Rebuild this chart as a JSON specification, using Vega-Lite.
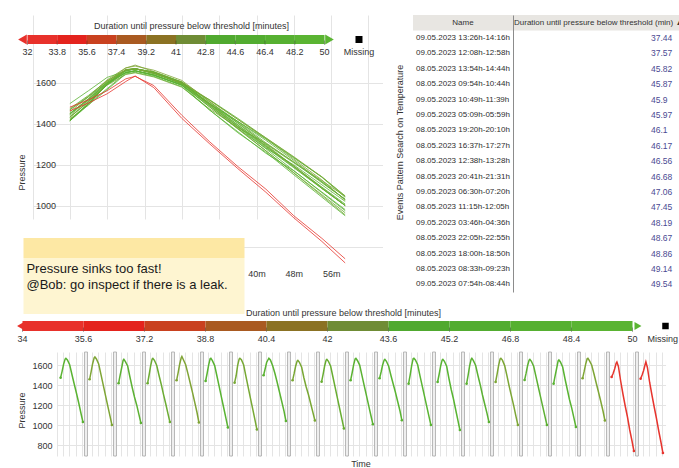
{
  "$schema": "https://vega.github.io/schema/vega-lite/v6.json",
  "background": "white",
  "padding": {"left": 17, "top": 15, "right": 0, "bottom": 0},
  "config": {
    "font": "Liberation Sans",
    "view": {"stroke": null},
    "axis": {"labelFont": "Liberation Sans", "titleFont": "Liberation Sans", "labelColor": "#333333", "titleColor": "#333333", "titleFontWeight": "normal", "gridColor": "#e4e4e4", "domain": false, "ticks": false, "labelFontSize": 9, "titleFontSize": 9}
  },
  "datasets": {
    "cycles": [
      {"c":1,"name":"08.05.2023 08:33h-09:23h","dur":49.14},
      {"c":2,"name":"08.05.2023 09:54h-10:44h","dur":45.87},
      {"c":3,"name":"08.05.2023 11:15h-12:05h","dur":47.45},
      {"c":4,"name":"08.05.2023 12:38h-13:28h","dur":46.56},
      {"c":5,"name":"08.05.2023 13:54h-14:44h","dur":45.82},
      {"c":6,"name":"08.05.2023 15:15h-16:05h","dur":49.71},
      {"c":7,"name":"08.05.2023 16:37h-17:27h","dur":46.17},
      {"c":8,"name":"08.05.2023 18:00h-18:50h","dur":48.86},
      {"c":9,"name":"08.05.2023 19:20h-20:10h","dur":46.1},
      {"c":10,"name":"08.05.2023 20:41h-21:31h","dur":46.68},
      {"c":11,"name":"08.05.2023 22:05h-22:55h","dur":48.67},
      {"c":12,"name":"08.05.2023 23:25h-00:15h","dur":49.82},
      {"c":13,"name":"09.05.2023 00:45h-01:35h","dur":49.9},
      {"c":14,"name":"09.05.2023 02:16h-03:06h","dur":50.13},
      {"c":15,"name":"09.05.2023 03:46h-04:36h","dur":48.19},
      {"c":16,"name":"09.05.2023 05:09h-05:59h","dur":45.97},
      {"c":17,"name":"09.05.2023 06:30h-07:20h","dur":47.06},
      {"c":18,"name":"09.05.2023 07:54h-08:44h","dur":49.54},
      {"c":19,"name":"09.05.2023 10:49h-11:39h","dur":45.9},
      {"c":20,"name":"09.05.2023 12:08h-12:58h","dur":37.57},
      {"c":21,"name":"09.05.2023 13:26h-14:16h","dur":37.44}
    ],
    "series": [
      {"c":1,"m":0,"p":1473},{"c":1,"m":4,"p":1537},{"c":1,"m":8,"p":1609},{"c":1,"m":12,"p":1659},{"c":1,"m":14,"p":1667},{"c":1,"m":18,"p":1650},{"c":1,"m":24,"p":1602},{"c":1,"m":30,"p":1505},{"c":1,"m":36,"p":1410},{"c":1,"m":42,"p":1318},{"c":1,"m":48,"p":1220},{"c":1,"m":54,"p":1115},{"c":1,"m":59,"p":1030},
      {"c":2,"m":0,"p":1457},{"c":2,"m":4,"p":1531},{"c":2,"m":8,"p":1613},{"c":2,"m":12,"p":1672},{"c":2,"m":14,"p":1680},{"c":2,"m":18,"p":1660},{"c":2,"m":24,"p":1610},{"c":2,"m":30,"p":1506},{"c":2,"m":36,"p":1401},{"c":2,"m":42,"p":1297},{"c":2,"m":48,"p":1192},{"c":2,"m":54,"p":1088},{"c":2,"m":59,"p":1000},
      {"c":3,"m":0,"p":1417},{"c":3,"m":4,"p":1496},{"c":3,"m":8,"p":1570},{"c":3,"m":12,"p":1646},{"c":3,"m":14,"p":1657},{"c":3,"m":18,"p":1634},{"c":3,"m":24,"p":1590},{"c":3,"m":30,"p":1480},{"c":3,"m":36,"p":1375},{"c":3,"m":42,"p":1280},{"c":3,"m":48,"p":1198},{"c":3,"m":54,"p":1101},{"c":3,"m":59,"p":1020},
      {"c":4,"m":0,"p":1417},{"c":4,"m":4,"p":1500},{"c":4,"m":8,"p":1592},{"c":4,"m":12,"p":1659},{"c":4,"m":14,"p":1667},{"c":4,"m":18,"p":1647},{"c":4,"m":24,"p":1597},{"c":4,"m":30,"p":1500},{"c":4,"m":36,"p":1408},{"c":4,"m":42,"p":1306},{"c":4,"m":48,"p":1212},{"c":4,"m":54,"p":1111},{"c":4,"m":59,"p":1030},
      {"c":5,"m":0,"p":1447},{"c":5,"m":4,"p":1522},{"c":5,"m":8,"p":1605},{"c":5,"m":12,"p":1670},{"c":5,"m":14,"p":1685},{"c":5,"m":18,"p":1653},{"c":5,"m":24,"p":1603},{"c":5,"m":30,"p":1514},{"c":5,"m":36,"p":1420},{"c":5,"m":42,"p":1326},{"c":5,"m":48,"p":1226},{"c":5,"m":54,"p":1125},{"c":5,"m":59,"p":1025},
      {"c":6,"m":0,"p":1440},{"c":6,"m":4,"p":1515},{"c":6,"m":8,"p":1599},{"c":6,"m":12,"p":1662},{"c":6,"m":14,"p":1667},{"c":6,"m":18,"p":1644},{"c":6,"m":24,"p":1594},{"c":6,"m":30,"p":1490},{"c":6,"m":36,"p":1383},{"c":6,"m":42,"p":1277},{"c":6,"m":48,"p":1170},{"c":6,"m":54,"p":1063},{"c":6,"m":59,"p":975},
      {"c":7,"m":0,"p":1423},{"c":7,"m":4,"p":1490},{"c":7,"m":8,"p":1594},{"c":7,"m":12,"p":1659},{"c":7,"m":14,"p":1667},{"c":7,"m":18,"p":1652},{"c":7,"m":24,"p":1600},{"c":7,"m":30,"p":1487},{"c":7,"m":36,"p":1377},{"c":7,"m":42,"p":1267},{"c":7,"m":48,"p":1158},{"c":7,"m":54,"p":1048},{"c":7,"m":59,"p":955},
      {"c":8,"m":0,"p":1497},{"c":8,"m":4,"p":1560},{"c":8,"m":8,"p":1625},{"c":8,"m":12,"p":1655},{"c":8,"m":14,"p":1667},{"c":8,"m":18,"p":1650},{"c":8,"m":24,"p":1592},{"c":8,"m":30,"p":1515},{"c":8,"m":36,"p":1425},{"c":8,"m":42,"p":1330},{"c":8,"m":48,"p":1235},{"c":8,"m":54,"p":1138},{"c":8,"m":59,"p":1040},
      {"c":9,"m":0,"p":1447},{"c":9,"m":4,"p":1513},{"c":9,"m":8,"p":1587},{"c":9,"m":12,"p":1639},{"c":9,"m":14,"p":1647},{"c":9,"m":18,"p":1627},{"c":9,"m":24,"p":1577},{"c":9,"m":30,"p":1470},{"c":9,"m":36,"p":1380},{"c":9,"m":42,"p":1303},{"c":9,"m":48,"p":1212},{"c":9,"m":54,"p":1121},{"c":9,"m":59,"p":1045},
      {"c":10,"m":0,"p":1433},{"c":10,"m":4,"p":1507},{"c":10,"m":8,"p":1590},{"c":10,"m":12,"p":1649},{"c":10,"m":14,"p":1657},{"c":10,"m":18,"p":1637},{"c":10,"m":24,"p":1587},{"c":10,"m":30,"p":1480},{"c":10,"m":36,"p":1373},{"c":10,"m":42,"p":1267},{"c":10,"m":48,"p":1160},{"c":10,"m":54,"p":1053},{"c":10,"m":59,"p":965},
      {"c":11,"m":0,"p":1447},{"c":11,"m":4,"p":1520},{"c":11,"m":8,"p":1601},{"c":11,"m":12,"p":1661},{"c":11,"m":14,"p":1667},{"c":11,"m":18,"p":1645},{"c":11,"m":24,"p":1599},{"c":11,"m":30,"p":1496},{"c":11,"m":36,"p":1394},{"c":11,"m":42,"p":1293},{"c":11,"m":48,"p":1192},{"c":11,"m":54,"p":1090},{"c":11,"m":59,"p":1007},
      {"c":12,"m":0,"p":1467},{"c":12,"m":4,"p":1530},{"c":12,"m":8,"p":1600},{"c":12,"m":12,"p":1649},{"c":12,"m":14,"p":1657},{"c":12,"m":18,"p":1637},{"c":12,"m":24,"p":1587},{"c":12,"m":30,"p":1495},{"c":12,"m":36,"p":1410},{"c":12,"m":42,"p":1325},{"c":12,"m":48,"p":1232},{"c":12,"m":54,"p":1140},{"c":12,"m":59,"p":1047},
      {"c":13,"m":0,"p":1413},{"c":13,"m":4,"p":1497},{"c":13,"m":8,"p":1591},{"c":13,"m":12,"p":1663},{"c":13,"m":14,"p":1667},{"c":13,"m":18,"p":1650},{"c":13,"m":24,"p":1602},{"c":13,"m":30,"p":1494},{"c":13,"m":36,"p":1392},{"c":13,"m":42,"p":1289},{"c":13,"m":48,"p":1187},{"c":13,"m":54,"p":1084},{"c":13,"m":59,"p":1000},
      {"c":14,"m":0,"p":1430},{"c":14,"m":4,"p":1505},{"c":14,"m":8,"p":1589},{"c":14,"m":12,"p":1649},{"c":14,"m":14,"p":1657},{"c":14,"m":18,"p":1637},{"c":14,"m":24,"p":1587},{"c":14,"m":30,"p":1465},{"c":14,"m":36,"p":1355},{"c":14,"m":42,"p":1260},{"c":14,"m":48,"p":1150},{"c":14,"m":54,"p":1041},{"c":14,"m":59,"p":950},
      {"c":15,"m":0,"p":1413},{"c":15,"m":4,"p":1497},{"c":15,"m":8,"p":1591},{"c":15,"m":12,"p":1656},{"c":15,"m":14,"p":1667},{"c":15,"m":18,"p":1644},{"c":15,"m":24,"p":1595},{"c":15,"m":30,"p":1495},{"c":15,"m":36,"p":1403},{"c":15,"m":42,"p":1300},{"c":15,"m":48,"p":1208},{"c":15,"m":54,"p":1116},{"c":15,"m":59,"p":1030},
      {"c":16,"m":0,"p":1430},{"c":16,"m":4,"p":1508},{"c":16,"m":8,"p":1596},{"c":16,"m":12,"p":1661},{"c":16,"m":14,"p":1667},{"c":16,"m":18,"p":1649},{"c":16,"m":24,"p":1594},{"c":16,"m":30,"p":1494},{"c":16,"m":36,"p":1387},{"c":16,"m":42,"p":1289},{"c":16,"m":48,"p":1192},{"c":16,"m":54,"p":1084},{"c":16,"m":59,"p":1000},
      {"c":17,"m":0,"p":1450},{"c":17,"m":4,"p":1518},{"c":17,"m":8,"p":1595},{"c":17,"m":12,"p":1649},{"c":17,"m":14,"p":1657},{"c":17,"m":18,"p":1637},{"c":17,"m":24,"p":1587},{"c":17,"m":30,"p":1486},{"c":17,"m":36,"p":1385},{"c":17,"m":42,"p":1284},{"c":17,"m":48,"p":1184},{"c":17,"m":54,"p":1083},{"c":17,"m":59,"p":1000},
      {"c":18,"m":0,"p":1413},{"c":18,"m":4,"p":1491},{"c":18,"m":8,"p":1565},{"c":18,"m":12,"p":1642},{"c":18,"m":14,"p":1650},{"c":18,"m":18,"p":1630},{"c":18,"m":24,"p":1580},{"c":18,"m":30,"p":1465},{"c":18,"m":36,"p":1360},{"c":18,"m":42,"p":1255},{"c":18,"m":48,"p":1169},{"c":18,"m":54,"p":1066},{"c":18,"m":59,"p":980},
      {"c":19,"m":0,"p":1467},{"c":19,"m":4,"p":1533},{"c":19,"m":8,"p":1607},{"c":19,"m":12,"p":1663},{"c":19,"m":14,"p":1667},{"c":19,"m":18,"p":1644},{"c":19,"m":24,"p":1600},{"c":19,"m":30,"p":1512},{"c":19,"m":36,"p":1420},{"c":19,"m":42,"p":1330},{"c":19,"m":48,"p":1238},{"c":19,"m":54,"p":1140},{"c":19,"m":59,"p":1045},
      {"c":20,"m":0,"p":1480},{"c":20,"m":4,"p":1515},{"c":20,"m":8,"p":1560},{"c":20,"m":12,"p":1618},{"c":20,"m":14,"p":1630},{"c":20,"m":18,"p":1585},{"c":20,"m":24,"p":1440},{"c":20,"m":30,"p":1310},{"c":20,"m":36,"p":1190},{"c":20,"m":42,"p":1080},{"c":20,"m":48,"p":950},{"c":20,"m":54,"p":840},{"c":20,"m":59,"p":740},
      {"c":21,"m":0,"p":1462},{"c":21,"m":4,"p":1500},{"c":21,"m":8,"p":1545},{"c":21,"m":12,"p":1605},{"c":21,"m":14,"p":1632},{"c":21,"m":18,"p":1575},{"c":21,"m":24,"p":1425},{"c":21,"m":30,"p":1300},{"c":21,"m":36,"p":1180},{"c":21,"m":42,"p":1065},{"c":21,"m":48,"p":940},{"c":21,"m":54,"p":825},{"c":21,"m":59,"p":720}
    ],
    "bins1": [
      {"from":32,"to":33.8},{"from":33.8,"to":35.6},{"from":35.6,"to":37.4},{"from":37.4,"to":39.2},{"from":39.2,"to":41},
      {"from":41,"to":42.8},{"from":42.8,"to":44.6},{"from":44.6,"to":46.4},{"from":46.4,"to":48.2},{"from":48.2,"to":50}
    ],
    "ticks1": [{"v":32},{"v":33.8},{"v":35.6},{"v":37.4},{"v":39.2},{"v":41},{"v":42.8},{"v":44.6},{"v":46.4},{"v":48.2},{"v":50}],
    "bins2": [
      {"start":34,"end":35.6},{"start":35.6,"end":37.2},{"start":37.2,"end":38.8},{"start":38.8,"end":40.4},{"start":40.4,"end":42},
      {"start":42,"end":43.6},{"start":43.6,"end":45.2},{"start":45.2,"end":46.8},{"start":46.8,"end":48.4},{"start":48.4,"end":50}
    ],
    "ticks2": [{"t":34},{"t":35.6},{"t":37.2},{"t":38.8},{"t":40.4},{"t":42},{"t":43.6},{"t":45.2},{"t":46.8},{"t":48.4},{"t":50}]
  },
  "resolve": {"scale": {"color": "independent"}},
  "bounds": "flush",
  "columns": 3,
  "spacing": {"row": 7, "column": 0},
  "concat": [
    {
      "width": 355.5,
      "height": 251,
      "resolve": {"scale": {"x": "independent", "y": "independent", "color": "independent"}},
      "layer": [
        {
          "layer": [
            {
              "data": {"name": "series"},
              "transform": [{"lookup": "c", "from": {"data": {"name": "cycles"}, "key": "c", "fields": ["dur"]}}],
              "mark": {"type": "line", "strokeWidth": 1, "opacity": 0.8},
              "encoding": {
                "x": {"field": "m", "type": "quantitative", "scale": {"domain": [-8, 67], "range": [-24.5, 325.5], "nice": false, "zero": false},
                      "axis": {"values": [-8,0,8,16,24,32,40,48,56,64], "tickCount": 30, "grid": true, "title": null, "labelPadding": 3, "labelOverlap": false,
                               "labelExpr": "datum.value >= 40 && datum.value <= 56 ? datum.value + 'm' : ''"}},
                "y": {"field": "p", "type": "quantitative", "scale": {"domain": [705, 1700], "range": [251, 47], "nice": false, "zero": false},
                      "axis": {"values": [800,1000,1200,1400,1600], "tickCount": 30, "format": "d", "grid": true, "title": "Pressure", "labelOverlap": false, "labelAlign": "left", "labelPadding": 21.5, "titleX": -30.5, "titleY": 157}},
                "detail": {"field": "c", "type": "nominal"},
                "color": {"field": "dur", "type": "quantitative", "legend": null,
                          "scale": {"domain": [37.4, 41, 45.8, 47, 50.2], "range": ["#e8332e", "#b8552a", "#80a436", "#5db033", "#58b432"]}}
              }
            },
            {
              "data": {"values": [{}]},
              "mark": {"type": "rect", "fill": "#fde8a4"},
              "encoding": {"x": {"datum": -9.93}, "x2": {"datum": 37.43}, "y": {"datum": 841.6}, "y2": {"datum": 744}}
            },
            {
              "data": {"values": [{}]},
              "mark": {"type": "rect", "fill": "#fef5d1"},
              "encoding": {"x": {"datum": -9.93}, "x2": {"datum": 37.43}, "y": {"datum": 744}, "y2": {"datum": 471}}
            },
            {
              "data": {"values": [{}]},
              "mark": {"type": "text", "text": ["Pressure sinks too fast!", "@Bob: go inspect if there is a leak."], "fontSize": 13, "lineHeight": 16, "align": "left", "baseline": "top", "color": "#1a1a1a"},
              "encoding": {"x": {"datum": -9.3}, "y": {"datum": 719.6}}
            }
          ]
        },
        {
          "layer": [
            {
              "data": {"name": "bins1"},
              "mark": {"type": "rect"},
              "encoding": {
                "x": {"field": "from", "type": "quantitative", "scale": {"domain": [33.788, 55.333], "nice": false, "zero": false}, "axis": null},
                "x2": {"field": "to"},
                "y": {"datum": 0, "type": "quantitative", "scale": {"domain": [-222, 29], "nice": false, "zero": false}, "axis": null},
                "y2": {"datum": 9},
                "color": {"field": "from", "type": "ordinal", "legend": null,
                  "scale": {"domain": [32,33.8,35.6,37.4,39.2,41,42.8,44.6,46.4,48.2],
                            "range": ["#e8312b","#e4231d","#c9411f","#a95a21","#8b7223","#6f8c35","#50a92f","#52ac30","#56b031","#5ab432"]}}
              }
            },
            {
              "data": {"name": "ticks1"},
              "mark": {"type": "rule", "color": "rgba(0,0,0,0.3)", "strokeWidth": 1},
              "encoding": {"x": {"field": "v", "type": "quantitative"}, "y": {"datum": -1}, "y2": {"datum": 3.5}}
            },
            {
              "data": {"name": "ticks1"},
              "mark": {"type": "text", "fontSize": 9, "color": "#333333", "baseline": "middle"},
              "encoding": {"x": {"field": "v", "type": "quantitative"}, "y": {"datum": -8}, "text": {"field": "v", "type": "nominal"}}
            },
            {
              "data": {"values": [{}]},
              "mark": {"type": "point", "shape": "triangle-left", "filled": true, "size": 100, "color": "#e8312b", "opacity": 1},
              "encoding": {"x": {"datum": 31.697}, "y": {"datum": 4.5}}
            },
            {
              "data": {"values": [{}]},
              "mark": {"type": "point", "shape": "triangle-right", "filled": true, "size": 100, "color": "#5ab432", "opacity": 1},
              "encoding": {"x": {"datum": 50.303}, "y": {"datum": 4.5}}
            },
            {
              "data": {"values": [{}]},
              "mark": {"type": "point", "shape": "square", "filled": true, "size": 49, "color": "#000000", "opacity": 1},
              "encoding": {"x": {"datum": 52.09}, "y": {"datum": 4.5}}
            },
            {
              "data": {"values": [{}]},
              "mark": {"type": "text", "text": "Missing", "fontSize": 9, "color": "#333333", "baseline": "middle"},
              "encoding": {"x": {"datum": 52.09}, "y": {"datum": -8}}
            },
            {
              "data": {"values": [{}]},
              "mark": {"type": "text", "text": "Duration until pressure below threshold [minutes]", "fontSize": 9, "color": "#333333", "baseline": "middle"},
              "encoding": {"x": {"datum": 41.94}, "y": {"datum": 18}}
            }
          ]
        }
      ]
    },
    {
      "width": 100,
      "height": 277,
      "layer": [
        {
          "data": {"values": [{}]},
          "mark": {"type": "rect", "fill": "#e8e6e2"},
          "encoding": {"y": {"datum": 0, "type": "ordinal",
            "scale": {"domain": [0,1,2,3,4,5,6,7,8,9,10,11,12,13,14,15,16,17], "paddingInner": 0, "paddingOuter": 0},
            "axis": {"title": "Events Pattern Search on Temperature", "labels": false, "grid": false, "titleX": -9, "titleY": 127}}}
        },
        {
          "data": {"values": [{}]},
          "mark": {"type": "text", "text": "Name", "fontSize": 8, "color": "#333333"},
          "encoding": {"y": {"datum": 0, "type": "ordinal"}}
        },
        {
          "data": {"name": "cycles"},
          "transform": [
            {"window": [{"op": "row_number", "as": "rank"}], "sort": [{"field": "dur", "order": "ascending"}]},
            {"filter": "datum.rank <= 17"}
          ],
          "mark": {"type": "text", "align": "left", "dx": -47, "fontSize": 8, "color": "#2e2e2e"},
          "encoding": {"y": {"field": "rank", "type": "ordinal"}, "text": {"field": "name", "type": "nominal"}}
        }
      ]
    },
    {
      "width": 166,
      "height": 277,
      "layer": [
        {
          "data": {"values": [{}]},
          "mark": {"type": "rect", "fill": "#e8e6e2"},
          "encoding": {"y": {"datum": 0, "type": "ordinal",
            "scale": {"domain": [0,1,2,3,4,5,6,7,8,9,10,11,12,13,14,15,16,17], "paddingInner": 0, "paddingOuter": 0},
            "axis": {"title": null, "labels": false, "grid": false, "domain": true, "domainColor": "#8c8c8c", "domainWidth": 1}}}
        },
        {
          "data": {"values": [{}]},
          "mark": {"type": "text", "text": "Duration until pressure below threshold (min) ▲", "fontSize": 8, "color": "#333333", "align": "left", "dx": -82, "clip": true},
          "encoding": {"y": {"datum": 0, "type": "ordinal"}}
        },
        {
          "data": {"name": "cycles"},
          "transform": [
            {"window": [{"op": "row_number", "as": "rank"}], "sort": [{"field": "dur", "order": "ascending"}]},
            {"filter": "datum.rank <= 17"}
          ],
          "mark": {"type": "text", "align": "left", "dx": 55, "fontSize": 8.5, "color": "#4a4a92", "clip": true},
          "encoding": {"y": {"field": "rank", "type": "ordinal"}, "text": {"field": "dur", "type": "nominal"}}
        }
      ]
    },
    {
      "width": 355.5,
      "height": 46,
      "layer": [
        {
          "data": {"name": "bins2"},
          "mark": {"type": "rect"},
          "encoding": {
            "x": {"field": "start", "type": "quantitative", "scale": {"domain": [34.905, 44.2295], "nice": false, "zero": false}, "axis": null},
            "x2": {"field": "end"},
            "y": {"datum": 0, "type": "quantitative", "scale": {"domain": [-14, 32], "nice": false, "zero": false}, "axis": null},
            "y2": {"datum": 10},
            "color": {"field": "start", "type": "ordinal", "legend": null,
              "scale": {"domain": [34,35.6,37.2,38.8,40.4,42,43.6,45.2,46.8,48.4],
                        "range": ["#e8312b","#e4231d","#c9411f","#a95a21","#8b7223","#6f8c35","#50a92f","#52ac30","#56b031","#5ab432"]}}
          }
        },
        {
          "data": {"name": "ticks2"},
          "mark": {"type": "rule", "color": "rgba(0,0,0,0.3)", "strokeWidth": 1},
          "encoding": {"x": {"field": "t", "type": "quantitative"}, "y": {"datum": -1}, "y2": {"datum": 3.5}}
        },
        {
          "data": {"name": "ticks2"},
          "mark": {"type": "text", "fontSize": 9, "color": "#333333", "baseline": "middle"},
          "encoding": {"x": {"field": "t", "type": "quantitative"}, "y": {"datum": -8}, "text": {"field": "t", "type": "nominal"}}
        },
        {
          "data": {"values": [{}]},
          "mark": {"type": "point", "shape": "triangle-left", "filled": true, "size": 64, "color": "#e8312b", "opacity": 1},
          "encoding": {"x": {"datum": 33.948}, "y": {"datum": 5}}
        },
        {
          "data": {"values": [{}]},
          "mark": {"type": "point", "shape": "triangle-right", "filled": true, "size": 64, "color": "#5ab432", "opacity": 1},
          "encoding": {"x": {"datum": 50.144}, "y": {"datum": 5}}
        },
        {
          "data": {"values": [{}]},
          "mark": {"type": "point", "shape": "square", "filled": true, "size": 42, "color": "#000000", "opacity": 1},
          "encoding": {"x": {"datum": 50.865}, "y": {"datum": 5}}
        },
        {
          "data": {"values": [{}]},
          "mark": {"type": "text", "text": "Missing", "fontSize": 9, "color": "#333333", "baseline": "middle", "align": "right"},
          "encoding": {"x": {"datum": 51.1934}, "y": {"datum": -8}}
        },
        {
          "data": {"values": [{}]},
          "mark": {"type": "text", "text": "Duration until pressure below threshold [minutes]", "fontSize": 9, "color": "#333333", "baseline": "middle"},
          "encoding": {"x": {"datum": 42.42}, "y": {"datum": 18}}
        }
      ]
    },
    {"width": 0, "height": 0, "data": {"values": []}, "mark": "rect", "encoding": {}},
    {"width": 0, "height": 0, "data": {"values": []}, "mark": "rect", "encoding": {}},
    {
      "data": {"name": "series"},
      "transform": [{"lookup": "c", "from": {"data": {"name": "cycles"}, "key": "c", "fields": ["dur"]}}],
      "facet": {"column": {"field": "c", "type": "ordinal", "title": "Time",
        "header": {"labels": false, "titleOrient": "bottom", "titleFontSize": 9, "titleFont": "Liberation Sans", "titleFontWeight": "normal", "titleColor": "#333333", "titlePadding": -6}}},
      "spacing": {"column": 0},
      "bounds": "flush",
      "spec": {
        "width": 28.55,
        "height": 104,
        "layer": [
          {
            "mark": {"type": "line", "strokeWidth": 1.5},
            "encoding": {
              "x": {"field": "m", "type": "quantitative", "scale": {"domain": [-9.5, 66], "nice": false, "zero": false},
                    "axis": {"values": [-9.5, 7, 23.5, 40, 56.5], "tickCount": 30, "labels": false, "title": null, "grid": true}},
              "y": {"field": "p", "type": "quantitative", "scale": {"domain": [690, 1730], "nice": false, "zero": false},
                    "axis": {"values": [800,1000,1200,1400,1600], "tickCount": 30, "format": "d", "grid": true, "title": "Pressure", "labelOverlap": false, "labelPadding": 5, "titleX": -30.5, "titleY": 58}},
              "color": {"field": "dur", "type": "quantitative", "legend": null,
                        "scale": {"domain": [37.4, 41, 45.8, 47, 50.2], "range": ["#e8332e", "#b8552a", "#80a436", "#5db033", "#58b432"]}}
            }
          },
          {
            "transform": [{"filter": "datum.m == 0 || datum.m == 59"}],
            "mark": {"type": "point", "filled": true, "size": 7, "opacity": 1},
            "encoding": {
              "x": {"field": "m", "type": "quantitative"},
              "y": {"field": "p", "type": "quantitative"},
              "color": {"field": "dur", "type": "quantitative", "legend": null}
            }
          },
          {
            "transform": [{"filter": "datum.m == 0 && datum.c > 1"}],
            "mark": {"type": "rect", "fill": "#eeeeee", "stroke": "#a8a8a8", "strokeWidth": 0.8},
            "encoding": {"x": {"datum": -13.5, "type": "quantitative"}, "x2": {"datum": -5.5}}
          }
        ]
      }
    }
  ]
}
